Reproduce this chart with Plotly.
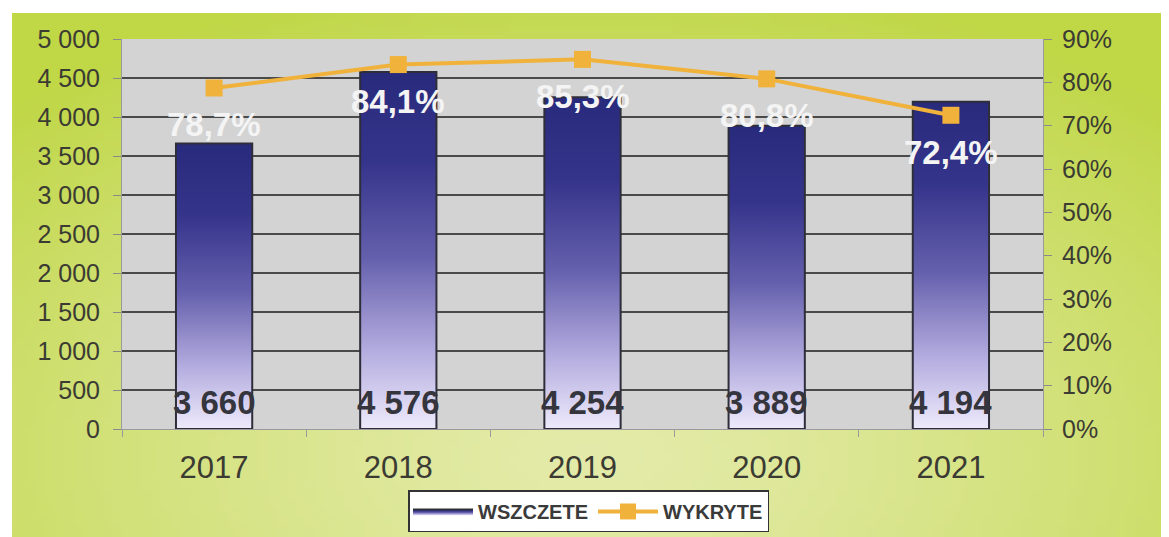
import base64
import math
import struct
import zlib

import plotly.graph_objects as go

# data
years = ["2017", "2018", "2019", "2020", "2021"]
wszczete = [3660, 4576, 4254, 3889, 4194]
wykryte = [0.787, 0.841, 0.853, 0.808, 0.724]

x_pos = list(range(len(years)))
half_w = 0.207


def gradient_png(w, h):
    # light yellow-green in the lower middle, stronger green towards the edges
    inner = (228, 235, 170)
    outer = (192, 215, 70)
    rows = b""
    for j in range(h):
        row = b"\x00"
        for i in range(w):
            dx = (i / (w - 1) - 0.5) * 1.3
            dy = (j / (h - 1) - 0.85) * 1.0
            t = min(1.0, math.sqrt(dx * dx + dy * dy) / 0.95)
            t = t ** 1.3
            px = bytes(int(inner[k] + (outer[k] - inner[k]) * t) for k in range(3))
            row += px
        rows += row

    def chunk(tag, data):
        c = struct.pack(">I", len(data)) + tag + data
        return c + struct.pack(">I", zlib.crc32(tag + data) & 0xFFFFFFFF)

    png = b"\x89PNG\r\n\x1a\n"
    png += chunk(b"IHDR", struct.pack(">IIBBBBB", w, h, 8, 2, 0, 0, 0))
    png += chunk(b"IDAT", zlib.compress(rows, 9))
    png += chunk(b"IEND", b"")
    return "data:image/png;base64," + base64.b64encode(png).decode()


bar_scale = [[0, "#eeeafb"], [0.22, "#b3acdf"], [0.48, "#6560ad"],
             [0.75, "#35348b"], [1, "#282a7c"]]

fig = go.Figure()

# gradient bars as filled polygons, one per year
for i, (xp, v) in enumerate(zip(x_pos, wszczete)):
    fig.add_trace(go.Scatter(
        x=[xp - half_w, xp + half_w, xp + half_w, xp - half_w, xp - half_w],
        y=[0, 0, v, v, 0],
        mode="lines",
        fill="toself",
        fillgradient=dict(type="vertical", colorscale=bar_scale, start=0, stop=v),
        line=dict(color="#2e2e3a", width=2),
        name="WSZCZETE",
        legendgroup="wszczete",
        showlegend=(i == 0),
        hoverinfo="skip",
    ))

fig.add_trace(go.Scatter(
    x=x_pos, y=wykryte,
    yaxis="y2",
    mode="lines+markers",
    name="WYKRYTE",
    line=dict(color="#f0b23a", width=4),
    marker=dict(symbol="square", size=17, color="#f0b23a"),
))

label_font = dict(family="Liberation Sans, Arial", size=33, weight="bold")
annotations = []
# value labels at the foot of the bars
for xp, v in zip(x_pos, wszczete):
    annotations.append(dict(
        x=xp, y=0, xref="x", yref="y",
        text=f"{v:,d}".replace(",", " "),
        showarrow=False, yanchor="middle", yshift=27,
        font=dict(label_font, color="#35353d"),
    ))
# percentage labels under the line points
for xp, p in zip(x_pos, wykryte):
    annotations.append(dict(
        x=xp, y=p, xref="x", yref="y2",
        text=f"{p * 100:.1f}%".replace(".", ","),
        showarrow=False, yanchor="middle", yshift=-37,
        font=dict(label_font, color="#f4f4f4"),
    ))

tick_font = dict(family="Liberation Sans, Arial", size=25, color="#3b3b33")

# the page body adds 8px, so the figure is 8px smaller and shifted back
fig.update_layout(
    width=1161, height=529,
    margin=dict(l=114, r=126, t=31, b=108),
    separators=", ",
    paper_bgcolor="white",
    plot_bgcolor="rgba(0,0,0,0)",
    font=dict(family="Liberation Sans, Arial"),
    xaxis=dict(
        range=[-0.5, 4.5], automargin=False,
        tickvals=x_pos, ticktext=years,
        ticks="", showgrid=False, zeroline=False,
        showline=True, linecolor="#9a9a9a", linewidth=1,
        tickfont=dict(family="Liberation Sans, Arial", size=31, color="#3b3b33"),
        ticklabelstandoff=11,
        minor=dict(tick0=0.5, dtick=1, ticks="outside", ticklen=7, tickcolor="#9a9a9a", showgrid=False),
    ),
    yaxis=dict(
        range=[0, 5000], dtick=500, tickformat=",d", automargin=False,
        showgrid=True, gridcolor="#4a4a4a", gridwidth=1.5,
        zeroline=False, showline=True, linecolor="#9a9a9a", linewidth=1,
        ticks="outside", ticklen=8, tickcolor="#8a8a8a",
        tickfont=tick_font, ticklabelstandoff=8,
    ),
    yaxis2=dict(
        range=[0, 0.9], dtick=0.1, tickformat=".0%", automargin=False,
        overlaying="y", side="right",
        showgrid=False, zeroline=False, showline=True, linecolor="#9a9a9a", linewidth=1,
        ticks="outside", ticklen=8, tickcolor="#8a8a8a",
        tickfont=tick_font, ticklabelstandoff=5,
    ),
    legend=dict(
        orientation="h", x=0.5, xanchor="center", xref="container",
        y=0.088, yanchor="top", yref="container",
        bgcolor="white", bordercolor="#333333", borderwidth=1.5,
        font=dict(family="Liberation Sans, Arial", size=20, color="#3a3a3a", weight="bold"),
        itemwidth=60,
    ),
    annotations=annotations,
    images=[dict(
        source=gradient_png(120, 60),
        xref="paper", yref="paper",
        x=-0.1194, y=1.0667, sizex=1.2563, sizey=1.344,
        xanchor="left", yanchor="top",
        sizing="stretch", layer="below",
    )],
    shapes=[dict(
        type="rect", xref="paper", yref="paper",
        x0=0, x1=1, y0=0, y1=1,
        fillcolor="#d3d3d3", line=dict(width=0), layer="below",
    )],
    showlegend=True,
)

fig.write_html("out.html")
